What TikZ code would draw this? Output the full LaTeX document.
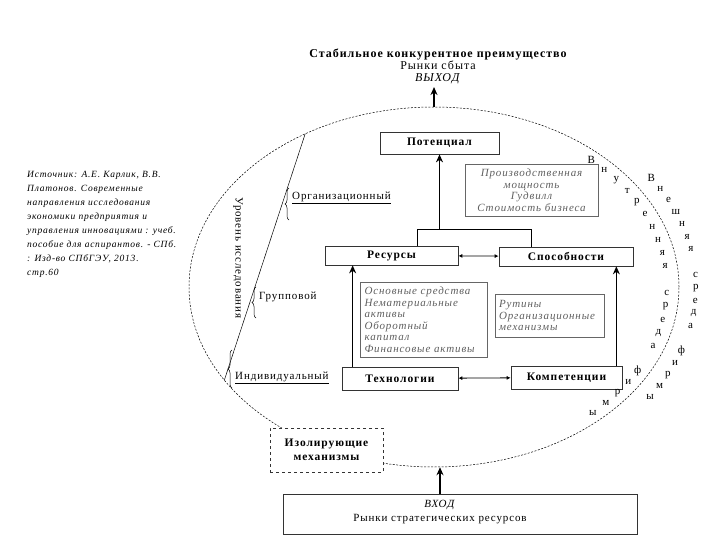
\documentclass[tikz,border=0pt]{standalone}
\usepackage{fontspec}
\setmainfont{Liberation Serif}[LetterSpace=8]
\usetikzlibrary{arrows.meta,shapes.geometric,decorations.pathreplacing}
\definecolor{g1}{RGB}{95,95,95}

\begin{document}
\begin{tikzpicture}[x=10pt,y=-10pt,
  box/.style={draw=black!80,line width=.7pt,font=\bfseries\fontsize{11.5}{14}\selectfont},
  note/.style={draw=black!60,line width=.6pt,text=g1,font=\itshape\fontsize{11}{11.5}\selectfont},
  arr/.style={line width=1.6pt,-{Stealth[length=8pt,width=7pt]}},
  dbl/.style={line width=.8pt,{Latex[length=4pt,width=4pt]}-{Latex[length=4pt,width=4pt]}},
  brc/.style={decorate,decoration={brace,amplitude=4pt},line width=.5pt},
  lvl/.style={font=\fontsize{11}{12}\selectfont,inner sep=1pt}]
  \useasboundingbox (0,0) rectangle (72,54);

  \node (env) [draw,ellipse,dash pattern=on 2pt off 1.5pt,line width=.5pt,minimum width=490pt,minimum height=360pt,inner sep=0pt] at (43.4,28.7) {};

  \node (vyh) [align=center,font=\fontsize{12}{12}\selectfont] at (43.8,6.6) {{\bfseries Стабильное конкурентное преимущество}\\Рынки сбыта\\\textit{ВЫХОД}};

  \node (pot) [box,minimum width=119pt,minimum height=22pt] at (43.95,14.3) {Потенциал};
  \node (prod) [note,minimum width=133pt,minimum height=52pt,align=center] at (53.15,19.0) {Производственная\\мощность\\Гудвилл\\Стоимость бизнеса};
  \node (res) [box,minimum width=133pt,minimum height=19pt] at (39.15,25.55) {Ресурсы};
  \node (spos) [box,minimum width=134pt,minimum height=19pt] at (56.6,25.65) {Способности};
  \node (osn) [note,minimum width=127pt,minimum height=75pt,text width=118pt,align=left] at (42.35,31.95) {Основные средства\\Нематериальные\\активы\\Оборотный\\капитал\\Финансовые активы};
  \node (rut) [note,minimum width=108pt,minimum height=43pt,text width=102pt,align=left] at (55.0,31.55) {Рутины\\Организационные\\механизмы};
  \node (tech) [box,minimum width=116pt,minimum height=23pt] at (40.0,37.85) {Технологии};
  \node (komp) [box,minimum width=111pt,minimum height=23pt] at (56.65,37.75) {Компетенции};
  \node (izol) [box,dashed,fill=white,minimum width=113pt,minimum height=44pt,align=center] at (32.65,45.0) {Изолирующие\\механизмы};

  \node (vhod) [draw=black!80,line width=.7pt,minimum width=354pt,minimum height=40pt] at (46,51.4) {};
  \node (vhodtxt) [align=center,font=\fontsize{11}{14}\selectfont] at (44,51.2) {\textit{ВХОД}\\Рынки стратегических ресурсов};

  \coordinate (j1) at (41.7,22.9);
  \coordinate (j2) at (53.1,22.9);
  \draw[line width=.7pt] (res.north -| j1) -- (j1) -- (j2) -- (spos.north -| j2); %res,spos
  \draw[arr] (pot.south |- j1) -- (pot.south); %-pot
  \draw[dbl] (res) -- (spos); %res-spos
  \draw[dbl] (tech) -- (komp); %tech-komp
  \draw[arr] ([xshift=11pt]tech.north west) -- ([xshift=11pt]tech.north west |- res.south); %tech-res
  \draw[arr] ([xshift=-6pt]komp.north east) -- ([xshift=-6pt]komp.north east |- spos.south); %komp-spos
  \draw[arr] (env.north) -- (env.north |- vyh.south); %out
  \draw[arr] (vhod.north -| vhodtxt) -- (vhodtxt |- env.south); %in

  % levels
  \draw[line width=.5pt] (env.130.5) -- (env.204);
  \draw[brc] (28.9,22.0) -- (28.9,18.8);
  \draw[brc] (25.6,31.8) -- (25.6,28.7);
  \draw[brc] (23.2,38.8) -- (23.2,35.0);
  \node (org) [lvl,anchor=west] at (29.1,19.8) {\underline{Организационный}};
  \node (grp) [lvl,anchor=west] at (25.8,29.7) {Групповой};
  \node (ind) [lvl,anchor=west] at (23.4,37.8) {\underline{Индивидуальный}};
  \node (lvlname) [lvl,rotate=-90] at (23.8,25.8) {Уровень исследования};

  \node (src) [anchor=north west,align=left,inner sep=0pt,font=\itshape\fontsize{9.5}{14}\selectfont] at (2.7,17.1) {Источник: А.Е. Карлик, В.В.\\Платонов. Современные\\направления исследования\\экономики предприятия и\\управления инновациями : учеб.\\пособие для аспирантов.  - СПб.\\: Изд-во СПбГЭУ, 2013.\\стр.60};

  % inner / outer
  \foreach \ch [count=\i] in {В,н,у,т,р,е,н,н,я,я,,с,р,е,д,а,,ф,и,р,м,ы}
    \node (in\i) [lvl,inner sep=0pt] at ({43.4+23.3*cos(47.5-4.5*(\i-1))},{28.7-17.2*sin(47.5-4.5*(\i-1))}) {\ch};
  \foreach \ch [count=\i] in {В,н,е,ш,н,я,я,,с,р,е,д,а,,ф,и,р,м,ы}
    \node (out\i) [lvl,inner sep=0pt] at ({43.4+26.2*cos(34-3.8*(\i-1))},{28.7-19.5*sin(34-3.8*(\i-1))}) {\ch};
\end{tikzpicture}
\end{document}
